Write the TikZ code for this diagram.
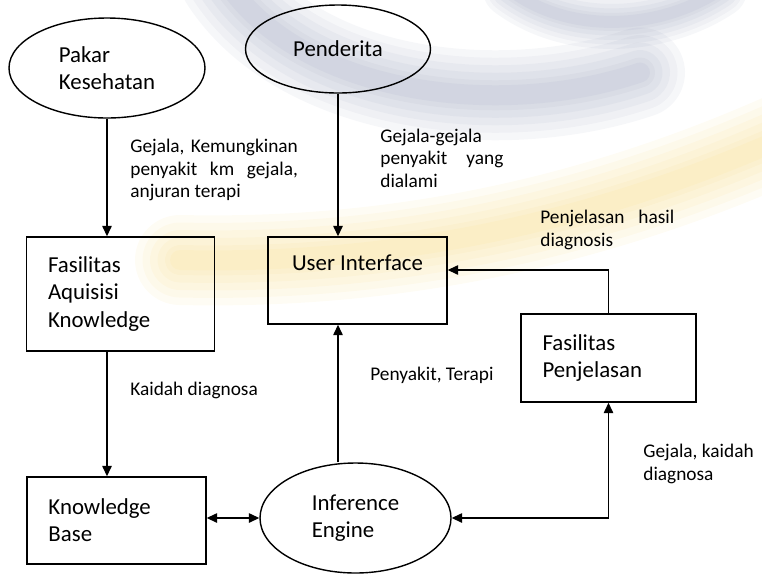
\documentclass[tikz,border=0pt]{standalone}
\usepackage{fontspec}
\setmainfont{Carlito}
\usepackage{tikz}
\usetikzlibrary{calc}
\usetikzlibrary{arrows.meta,shapes.geometric,positioning}
\usepackage{xcolor}

\definecolor{wmblue}{RGB}{100,112,150}
\definecolor{wmyellow}{RGB}{240,196,60}

\newcommand{\boxfont}{\fontsize{13}{15.5}\selectfont}
\newcommand{\notefont}{\fontsize{11}{12.8}\selectfont}

\tikzset{
    >={Triangle[length=0.21cm,width=0.19cm]},
    box/.style={draw, rectangle, line width=0.8pt, align=left, inner xsep=0.43cm, font=\boxfont},
    oval/.style={draw, ellipse, line width=0.8pt, align=left, inner sep=0pt, font=\boxfont},
    note/.style={align=justify, inner sep=0pt, anchor=west, font=\notefont},
    flow/.style={->, line width=0.8pt},
    haze/.style={line cap=round, opacity=0.055},
}

\begin{document}
\begin{tikzpicture}
        \useasboundingbox (0,0) rectangle (15.24,-11.48);

        % Faded logo in the background
        \begin{scope}
            \clip (0,0) rectangle (15.24,-11.48);
            \foreach \w in {1.8,1.5,1.2,0.9,0.6,0.4} {
                \draw[haze, wmblue, line width=\w cm] (4.5,0.4) .. controls (6,-1.9) and (10,-2.4) .. (12.8,-1.45);
                \draw[haze, wmblue, line width=0.6*\w cm] (10.2,0.2) .. controls (11.4,-0.7) and (13.2,-0.6) .. (14.4,0.2);
                \draw[haze, wmyellow, line width=\w cm] (3.6,-5.2) .. controls (8,-5.3) and (12,-4.4) .. (15.8,-2.7);
            }
        \end{scope}

        % Outside actors
        \node[oval, minimum width=3.92cm, minimum height=2.0cm] (pakar) at (2.14,-1.36) {Pakar\\Kesehatan};
        \node[oval, minimum width=3.7cm, minimum height=1.76cm] (penderita) at (6.76,-0.98) {Penderita};

        % Boxes
        \node[box, text width=2.9cm, minimum height=2.28cm] (aquisisi) at (2.41,-5.88) {Fasilitas\\Aquisisi\\Knowledge};
        \node[box, minimum width=3.58cm, minimum height=1.74cm,
              label={[font=\boxfont, anchor=center, yshift=-0.52cm]north:User Interface}] (ui) at (7.15,-5.61) {};
        \node[box, text width=2.64cm, minimum height=1.76cm] (penjelasan) at (12.17,-7.16) {Fasilitas\\Penjelasan};
        \node[box, text width=2.72cm, minimum height=1.74cm] (kb) at (2.33,-10.41) {Knowledge\\Base};

        % Engine
        \node[oval, minimum width=3.82cm, minimum height=2.2cm] (inference) at (7.11,-10.36) {Inference\\Engine};

        % Arrows
        \draw[flow] (pakar.south) -- (pakar.south |- aquisisi.north);
        \draw[flow] (penderita.south) -- (penderita.south |- ui.north);
        \draw[flow] (aquisisi.south -| pakar.south) -- (kb.north -| pakar.south);
        \draw[flow, <->] (inference.west -| kb.east) -- (inference.west);
        \draw[flow] (inference.north -| penderita.south) -- (ui.south -| penderita.south);
        \draw[flow] (penjelasan.north) |- ($(ui.east)+(0,0.21)$);
        \draw[flow, <->] (inference.east) -| (penjelasan.south);

        % Labels
        \node[note, text width=3.35cm] (lblpakar) at (2.6,-3.4) {Gejala, Kemungkinan\linebreak penyakit km gejala,\linebreak anjuran terapi};
        \node[note, text width=2.46cm] (lblpenderita) at (7.6,-3.16) {Gejala-gejala\linebreak penyakit yang\linebreak dialami};
        \node[note] (lblkaidah) at (2.6,-7.8) {Kaidah diagnosa};
        \node[note] (lblterapi) at (7.4,-7.5) {Penyakit, Terapi};
        \node[note, text width=2.68cm] (lblhasil) at (10.8,-4.6) {Penjelasan hasil\linebreak diagnosis};
        \node[note, align=left] (lblgejala) at (12.86,-9.28) {Gejala, kaidah\\diagnosa};

\end{tikzpicture}
\end{document}
